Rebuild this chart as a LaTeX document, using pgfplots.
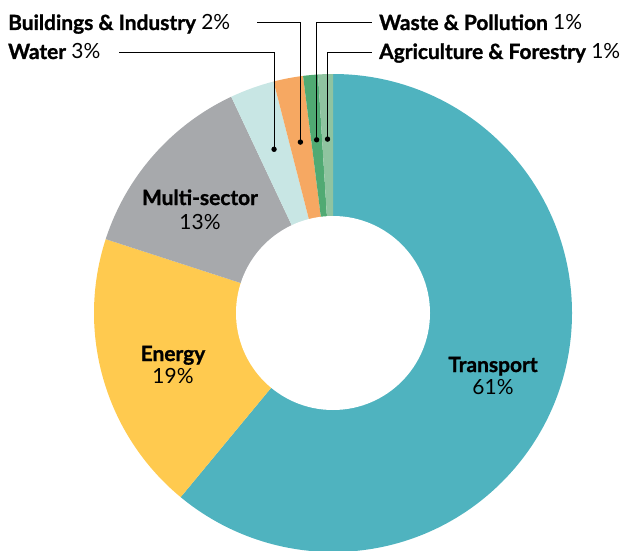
\documentclass[border=0pt]{standalone}
\usepackage{pgfplots}
\pgfplotsset{compat=1.18}
\usepackage{pgfplotstable}
\usepackage{fontspec}
\setmainfont{Lato}[BoldFeatures={FakeBold=1.2}]

\definecolor{cTransport}{HTML}{4FB3BF}
\definecolor{cEnergy}{HTML}{FFCA4F}
\definecolor{cMulti}{HTML}{A7A9AC}
\definecolor{cWater}{HTML}{C8E6E4}
\definecolor{cBuild}{HTML}{F6A862}
\definecolor{cWaste}{HTML}{50AA73}
\definecolor{cAgri}{HTML}{8FC4A0}

% shares in percent, clockwise from 12 o'clock
\pgfplotstableread{
value color
61 cTransport
19 cEnergy
13 cMulti
3  cWater
2  cBuild
1  cWaste
1  cAgri
}\sectors

\newcommand\fsz{\fontsize{21}{24}\selectfont}
\newcommand\lbl[2]{\fsz\textbf{#1} #2}

\begin{document}
\begin{tikzpicture}
\begin{axis}[
    scale only axis,
    width=629bp, height=551bp,
    xmin=0, xmax=629, ymin=0, ymax=551,
    y dir=reverse,
    hide axis, clip=false,
]
\coordinate (SW) at (axis cs:0,551);
\coordinate (NE) at (axis cs:629,0);

\def\cum{0}
\pgfplotsforeachungrouped \i in {0,...,6}{%
    \pgfplotstablegetelem{\i}{value}\of\sectors \let\v=\pgfplotsretval
    \pgfplotstablegetelem{\i}{color}\of\sectors \let\c=\pgfplotsretval
    \pgfmathsetmacro\aone{90-3.6*\cum}%
    \pgfmathsetmacro\atwo{90-3.6*(\cum+\v)}%
    \pgfmathsetmacro\amid{(\aone+\atwo)/2}%
    \expandafter\xdef\csname mid\i\endcsname{\amid}%
    \pgfmathsetmacro\cum{\cum+\v}%
    \edef\temp{\noexpand\fill[\c] (axis cs:333,313) -- ++(\aone:239bp)
        arc[start angle=\aone, end angle=\atwo, radius=239bp] -- cycle;}%
    \temp
}
\fill[white] (axis cs:333,313) circle[radius=97bp];

% leaders for the thin slices
\draw[line width=1.1pt] (axis cs:333,313) ++(\csname mid3\endcsname:174bp) |- (axis cs:119,52.7);
\draw[line width=1.1pt] (axis cs:333,313) ++(\csname mid4\endcsname:174bp) |- (axis cs:257,22.7);
\draw[line width=1.1pt] (axis cs:333,313) ++(\csname mid5\endcsname:174bp) |- (axis cs:372,22.7);
\draw[line width=1.1pt] (axis cs:333,313) ++(\csname mid6\endcsname:174bp) |- (axis cs:372,52.7);
\fill (axis cs:333,313) ++(\csname mid3\endcsname:174bp) circle[radius=2.7bp];
\fill (axis cs:333,313) ++(\csname mid4\endcsname:174bp) circle[radius=2.7bp];
\fill (axis cs:333,313) ++(\csname mid5\endcsname:174bp) circle[radius=2.7bp];
\fill (axis cs:333,313) ++(\csname mid6\endcsname:174bp) circle[radius=2.7bp];

\node[anchor=base west, inner sep=0pt] at (axis cs:8,30) {\lbl{Buildings \& Industry}{2\%}};
\node[anchor=base west, inner sep=0pt] at (axis cs:8,59) {\lbl{Water}{3\%}};
\node[anchor=base west, inner sep=0pt] at (axis cs:379,30) {\lbl{Waste \& Pollution}{1\%}};
\node[anchor=base west, inner sep=0pt] at (axis cs:379,59) {\lbl{Agriculture \& Forestry}{1\%}};

\node[anchor=base, inner sep=0pt] at (axis cs:200,205) {\fsz\bfseries Multi-sector};
\node[anchor=base, inner sep=0pt] at (axis cs:200,229) {\fsz 13\%};
\node[anchor=base, inner sep=0pt] at (axis cs:173,361) {\fsz\bfseries Energy};
\node[anchor=base, inner sep=0pt] at (axis cs:173,383) {\fsz 19\%};
\node[anchor=base, inner sep=0pt] at (axis cs:493,372) {\fsz\bfseries Transport};
\node[anchor=base, inner sep=0pt] at (axis cs:493,394) {\fsz 61\%};
\end{axis}
\pgfresetboundingbox
\path[use as bounding box] (SW) rectangle (NE);
\end{tikzpicture}
\end{document}
